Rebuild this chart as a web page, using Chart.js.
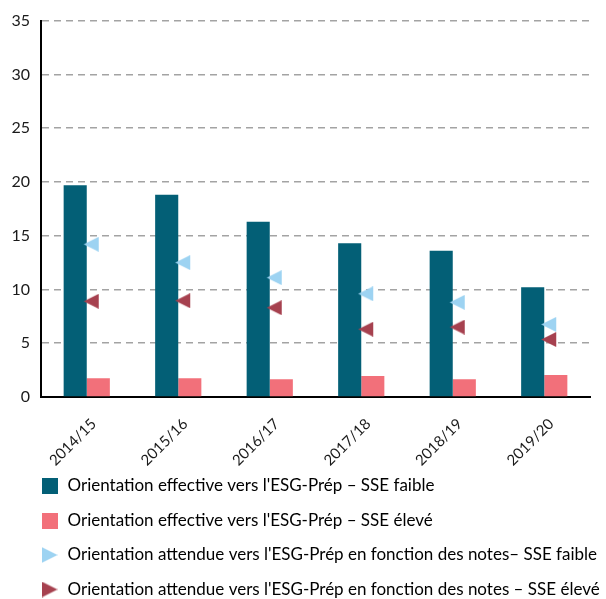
<!DOCTYPE html>
<html>
<head>
<meta charset="utf-8">
<script src="https://cdn.jsdelivr.net/npm/chart.js@4.4.0/dist/chart.umd.min.js"></script>
<style>
  html, body { margin: 0; padding: 0; background: #fff; overflow: hidden; }
  #wrap { width: 606px; height: 599px; }
</style>
</head>
<body>
<div id="wrap"><canvas id="chart" width="606" height="599"></canvas></div>
<script>
let years = ["2014/15", "2015/16", "2016/17", "2017/18", "2018/19", "2019/20"];
let effectiveLow = [19.7, 18.8, 16.3, 14.3, 13.6, 10.2];
let effectiveHigh = [1.75, 1.75, 1.65, 1.95, 1.65, 2.05];
let expectedLow = [14.2, 12.5, 11.1, 9.6, 8.8, 6.75];
let expectedHigh = [8.9, 8.95, 8.3, 6.3, 6.5, 5.35];
let yTicks = [0, 5, 10, 15, 20, 25, 30, 35];
let seriesNames = [
    "Orientation effective vers l'ESG-Prép – SSE faible",
    "Orientation effective vers l'ESG-Prép – SSE élevé",
    "Orientation attendue vers l'ESG-Prép en fonction des notes– SSE faible",
    "Orientation attendue vers l'ESG-Prép en fonction des notes – SSE élevé"
];

let colors = ['#035f76', '#f2707a', '#9dd3f2', '#a6414f'];

// triangle marker drawn into a small canvas, used as pointStyle
function triangle(color, w, h, tipX, baseX) {
    let c = document.createElement('canvas');
    c.width = w;
    c.height = h;
    let ctx = c.getContext('2d');
    ctx.fillStyle = color;
    ctx.beginPath();
    ctx.moveTo(tipX, h / 2);
    ctx.lineTo(baseX, 0);
    ctx.lineTo(baseX, h);
    ctx.closePath();
    ctx.fill();
    return c;
}

function square(color, s) {
    let c = document.createElement('canvas');
    c.width = s;
    c.height = s;
    let ctx = c.getContext('2d');
    ctx.fillStyle = color;
    ctx.fillRect(0, 0, s, s);
    return c;
}

// in the plot the triangles point left, in the legend they point right
let leftTriBlue = triangle(colors[2], 26, 15, 10, 25);
let leftTriRed = triangle(colors[3], 26, 15, 10, 25);
let legendMarks = [
    square(colors[0], 16),
    square(colors[1], 16),
    triangle(colors[2], 16, 16, 16, 0),
    triangle(colors[3], 16, 16, 16, 0)
];

// legend sits under the y axis, a bit higher than the layout puts it
let legendNudge = {
    id: 'legendNudge',
    afterLayout(chart) {
        chart.legend.left += 22.5;
        chart.legend.right += 22.5;
        chart.legend.top -= 11.5;
        chart.legend.bottom -= 11.5;
    }
};

Chart.defaults.font.family = "Lato";
Chart.defaults.font.size = 16;
Chart.defaults.color = "#1a1a1a";

let chartCanvas = document.getElementById("chart").getContext('2d');
let graph = new Chart(chartCanvas, {
    type: 'bar',
    data: {
        labels: years,
        datasets: [
            {
                label: seriesNames[0],
                data: effectiveLow,
                backgroundColor: colors[0],
                barPercentage: 1,
                categoryPercentage: 0.505,
                order: 2
            },
            {
                label: seriesNames[1],
                data: effectiveHigh,
                backgroundColor: colors[1],
                barPercentage: 1,
                categoryPercentage: 0.505,
                order: 2
            },
            {
                type: 'line',
                label: seriesNames[2],
                data: expectedLow,
                showLine: false,
                pointStyle: leftTriBlue,
                pointRadius: 8,
                pointHoverRadius: 8,
                backgroundColor: colors[2],
                borderColor: colors[2],
                order: 1
            },
            {
                type: 'line',
                label: seriesNames[3],
                data: expectedHigh,
                showLine: false,
                pointStyle: leftTriRed,
                pointRadius: 8,
                pointHoverRadius: 8,
                backgroundColor: colors[3],
                borderColor: colors[3],
                order: 1
            }
        ]
    },
    options: {
        responsive: false,
        animation: false,
        layout: {
            padding: {left: 0, right: 16, top: 19, bottom: -20.5}
        },
        scales: {
            x: {
                grid: {display: false},
                border: {display: true, color: '#000', width: 2},
                ticks: {
                    maxRotation: 45,
                    minRotation: 45,
                    padding: 10,
                    labelOffset: 7,
                    font: {size: 15}
                },
                afterFit: (scale) => { scale.height = 74.5; }
            },
            y: {
                min: 0,
                max: 35,
                afterBuildTicks: (scale) => {
                    scale.ticks = yTicks.map(v => ({value: v}));
                },
                grid: {color: '#a3a3a3', lineWidth: 1.5, drawTicks: false},
                border: {display: true, color: '#000', width: 2, dash: [7, 5]},
                ticks: {padding: 11},
                afterFit: (scale) => { scale.width = 41; }
            }
        },
        plugins: {
            tooltip: {enabled: false},
            legend: {
                position: 'bottom',
                align: 'start',
                labels: {
                    usePointStyle: true,
                    pointStyleWidth: 19,
                    padding: 17.5,
                    font: {size: 17},
                    generateLabels: (chart) => chart.data.datasets.map((ds, i) => ({
                        text: ds.label,
                        pointStyle: legendMarks[i],
                        fillStyle: colors[i],
                        strokeStyle: colors[i],
                        lineWidth: 0,
                        hidden: false,
                        datasetIndex: i
                    }))
                }
            }
        }
    },
    plugins: [legendNudge]
});
</script>
</body>
</html>
